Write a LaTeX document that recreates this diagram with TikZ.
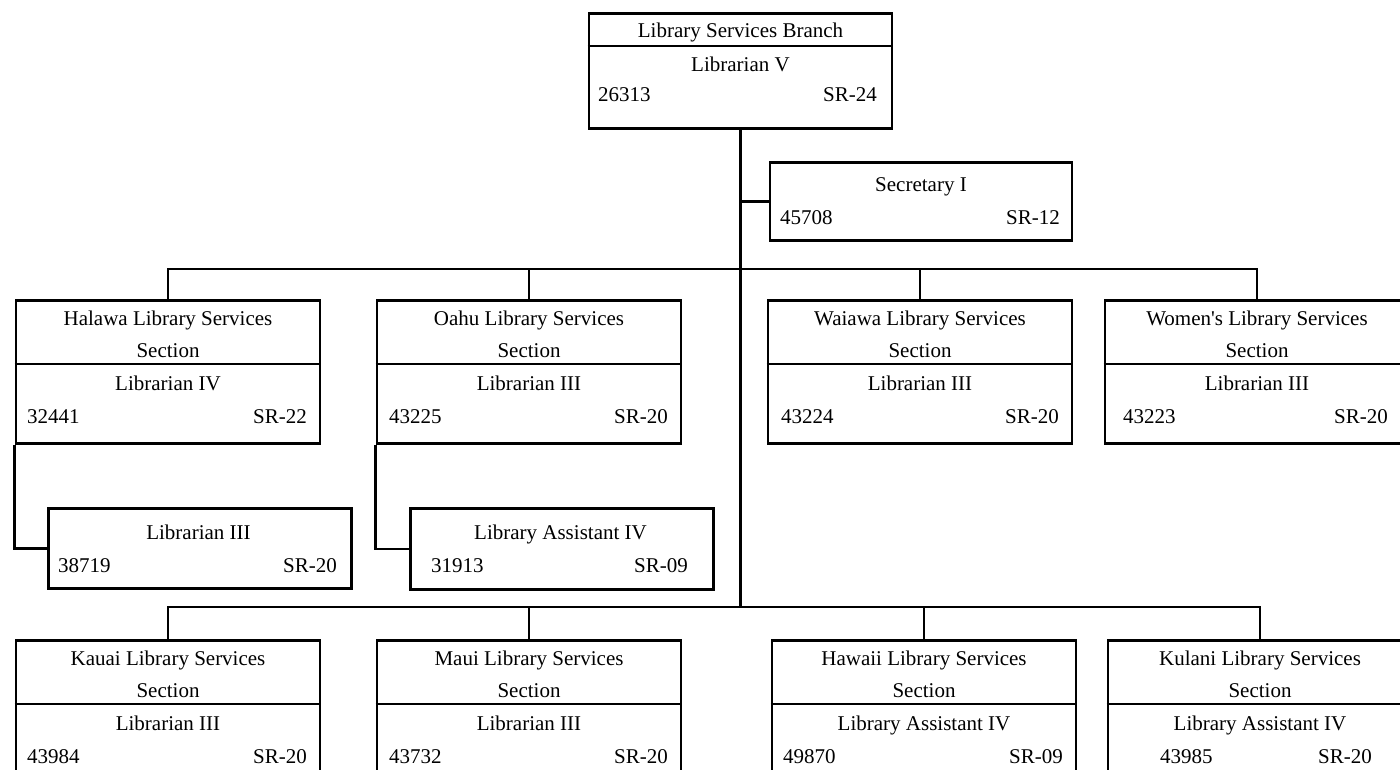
\documentclass[tikz,border=0pt]{standalone}
\usepackage{fontspec}
\setmainfont{Liberation Serif}[Ligatures=TeXOff]
\newcommand\secbox[9]{%
  \node[box, anchor=north, minimum width=304pt, minimum height=143pt] (#1) at (#2,#3) {};
  \draw[wire] (#1.west |- 0,{#3+65}) -- (#1.east |- 0,{#3+65});
  \node[txt] (#1-t1) at (#2,{#3+26}) {#4};
  \node[txt] (#1-t2) at (#2,{#3+58}) {Section};
  \node[txt] (#1-t3) at (#2,{#3+91}) {#5};
  \node[ltxt] (#1-n) at (#8,{#3+124}) {#6};
  \node[rtxt] (#1-g) at (#9,{#3+124}) {#7};
}
\begin{document}
\begin{tikzpicture}[x=1pt, y=-1pt,
  box/.style={draw, line width=2.6pt, inner sep=0pt, fill=none},
  wire/.style={line width=2.6pt},
  txt/.style={inner sep=0pt, anchor=base, font=\fontsize{21}{25}\selectfont},
  ltxt/.style={txt, anchor=base west},
  rtxt/.style={txt, anchor=base east}]
\clip (0,0) rectangle (1400,770);
\fill[white] (0,0) rectangle (1400,770);

% top box
\node[box, anchor=north, minimum width=303pt, minimum height=115pt] (top) at (740.5,12) {};
\draw[wire] (top.west |- 0,46) -- (top.east |- 0,46);
\node[txt] (top-t1) at (740.5,38) {Library Services Branch};
\node[txt] (top-t2) at (740.5,72) {Librarian V};
\node[ltxt] (top-n) at (598,102) {26313};
\node[rtxt] (top-g) at (877,102) {SR-24};

% secretary
\node[box, anchor=north, minimum width=302pt, minimum height=78pt] (sec) at (921,161) {};
\node[txt] (sec-t) at (921,192) {Secretary I};
\node[ltxt] (sec-n) at (780,225) {45708};
\node[rtxt] (sec-g) at (1060,225) {SR-12};

% row 1 sections
\secbox{halawa}{168}{299}{Halawa Library Services}{Librarian IV}{32441}{SR-22}{27}{307}
\secbox{oahu}{529}{299}{Oahu Library Services}{Librarian III}{43225}{SR-20}{389}{668}
\secbox{waiawa}{920}{299}{Waiawa Library Services}{Librarian III}{43224}{SR-20}{781}{1059}
\secbox{womens}{1257}{299}{Women's Library Services}{Librarian III}{43223}{SR-20}{1123}{1388}

% sub boxes
\node[box, anchor=north west, minimum width=303pt, minimum height=80pt] (hsub) at (47,507) {};
\node[txt] (hsub-t) at (198.5,539) {Librarian III};
\node[ltxt] (hsub-n) at (58,572) {38719};
\node[rtxt] (hsub-g) at (337,572) {SR-20};

\node[box, anchor=north west, minimum width=303pt, minimum height=81pt] (osub) at (409,507) {};
\node[txt] (osub-t) at (560.5,539) {Library Assistant IV};
\node[ltxt] (osub-n) at (431,572) {31913};
\node[rtxt] (osub-g) at (688,572) {SR-09};

% row 2 sections
\secbox{kauai}{168}{639}{Kauai Library Services}{Librarian III}{43984}{SR-20}{27}{307}
\secbox{maui}{529}{639}{Maui Library Services}{Librarian III}{43732}{SR-20}{389}{668}
\secbox{hawaii}{924}{639}{Hawaii Library Services}{Library Assistant IV}{49870}{SR-09}{783}{1063}
\secbox{kulani}{1260}{639}{Kulani Library Services}{Library Assistant IV}{43985}{SR-20}{1160}{1372}

% connectors
\coordinate (bus2) at (740.5,607);
\draw[wire] (top.south) -- (bus2);
\draw[wire] (sec.west) -- (sec.west -| top.south);
\draw[wire] (halawa.north) -- ++(0,-30) -| (womens.north);
\draw[wire] (oahu.north) -- ++(0,-30);
\draw[wire] (waiawa.north) -- ++(0,-30);
\draw[wire] (kauai.north) -- ++(0,-32) -| (kulani.north);
\draw[wire] (maui.north) -- ++(0,-32);
\draw[wire] (hawaii.north) -- ++(0,-32);
\draw[wire] (halawa.south west) |- (hsub.west);
\draw[wire] (oahu.south west) |- (osub.west);
\end{tikzpicture}
\end{document}
